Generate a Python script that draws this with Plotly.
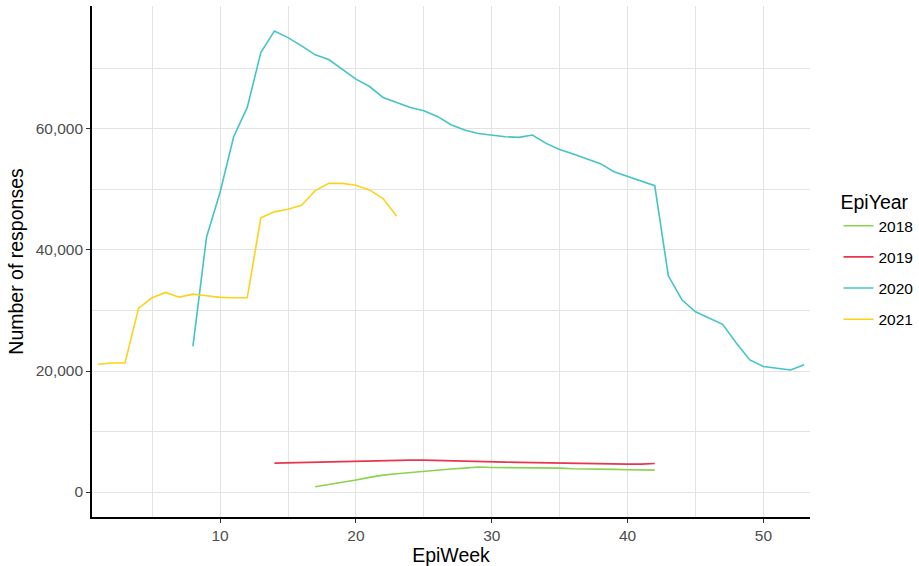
import plotly.graph_objects as go

weeks_2018 = list(range(17, 43))
resp_2018 = [880, 1210, 1540, 1980, 2420, 2800, 3020, 3240, 3460, 3630, 3800,
             3960, 4130, 4070, 4070, 4070, 4070, 3960, 3960, 3850, 3850, 3800,
             3740, 3690, 3630, 3630]

weeks_2019 = list(range(14, 43))
resp_2019 = [4780, 4830, 4900, 4950, 5060, 5110, 5170, 5220, 5280, 5280, 5280,
             5280, 5220, 5170, 5060, 4950, 4950, 4950, 4900, 4850, 4850, 4850,
             4780, 4730, 4670, 4620, 4620, 4620, 4730]

weeks_2020 = list(range(8, 54))
resp_2020 = [24070, 42100, 49520, 58700, 63540, 72600, 76180, 75080, 73710,
             72230, 71460, 69870, 68220, 67000, 65190, 64360, 63540, 63000,
             62060, 60680, 59800, 59250, 58920, 58700, 58590, 58980, 57600,
             56610, 55850, 55080, 54250, 52930, 52160, 51400, 50620, 35730,
             31770, 29790, 28690, 27700, 24630, 21820, 20730, 20500, 20170,
             21050]

weeks_2021 = list(range(1, 24))
resp_2021 = [21110, 21320, 21320, 30390, 32100, 32980, 32200, 32700, 32430,
             32160, 32100, 32100, 45300, 46290, 46720, 47380, 49800, 51000,
             51000, 50680, 49920, 48480, 45560]

years = ["2018", "2019", "2020", "2021"]
colors = ["#8cd24c", "#e8364f", "#45c4c4", "#fcd21c"]
series = [(weeks_2018, resp_2018), (weeks_2019, resp_2019),
          (weeks_2020, resp_2020), (weeks_2021, resp_2021)]

y_ticks = [0, 20000, 40000, 60000]
x_ticks = [10, 20, 30, 40, 50]

fig = go.Figure()
for yr, col, (wx, wy) in zip(years, colors, series):
    fig.add_trace(go.Scatter(x=wx, y=wy, mode="lines", name=yr, legendgroup=yr,
                             line=dict(color=col, width=1.6)))

grid = "#e3e3e3"
fig.update_layout(
    width=919, height=566,
    margin=dict(l=92, r=109, t=6, b=49, autoexpand=False),
    paper_bgcolor="white", plot_bgcolor="white",
    font=dict(family="Liberation Sans, Arial, sans-serif", color="black"),
    xaxis=dict(range=[0.57, 53.43], tickvals=x_ticks, showgrid=True, gridcolor=grid,
               gridwidth=1, zeroline=False, showline=True, linecolor="black", linewidth=1.6,
               ticks="outside", ticklen=4, tickcolor="#333333", tickwidth=1,
               tickfont=dict(size=15.5, color="#4d4d4d"), automargin=False,
               minor=dict(tickvals=[5, 15, 25, 35, 45], showgrid=True, gridcolor=grid, gridwidth=1),
               title=dict(text="EpiWeek", font=dict(size=19.5, color="black"), standoff=0)),
    yaxis=dict(range=[-4120, 80300], tickvals=y_ticks, tickformat=",d", showgrid=True,
               gridcolor=grid, gridwidth=1, zeroline=False, showline=True, linecolor="black",
               linewidth=1.6, ticks="outside", ticklen=4, tickcolor="#333333", tickwidth=1,
               tickfont=dict(size=15.5, color="#4d4d4d"), automargin=False,
               minor=dict(tickvals=[10000, 30000, 50000, 70000], showgrid=True, gridcolor=grid, gridwidth=1),
               title=dict(text="Number of responses", font=dict(size=19.5, color="black"), standoff=7)),
    legend=dict(x=1.0397, y=0.652, xanchor="left", yanchor="top",
                title=dict(text="EpiYear", font=dict(size=19.5, color="black")),
                font=dict(size=15.5, color="black"), tracegroupgap=8,
                traceorder="grouped", bgcolor="rgba(0,0,0,0)"),
)

fig.write_html("out.html", config={"displayModeBar": False},
               post_script="document.body.style.margin='0';")
